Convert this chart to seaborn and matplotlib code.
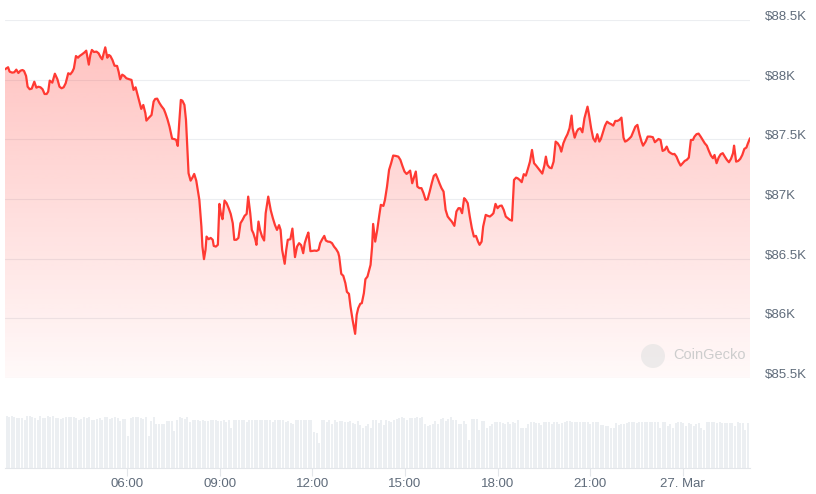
import matplotlib
matplotlib.use("Agg")
import matplotlib.pyplot as plt
import matplotlib.dates as mdates
import matplotlib.colors as mcolors
from matplotlib.patches import Ellipse
import numpy as np
import pandas as pd
import seaborn as sns

# BTC price, 26-27 Mar 2025 (minutes after 26 Mar 00:00, USD)
minutes = [
    122, 128, 131, 136, 140, 144, 148, 152, 156, 159, 163, 166, 170, 174, 179, 183,
    187, 191, 195, 199, 203, 206, 209, 214, 219, 224, 228, 232, 236, 240, 245, 249,
    253, 256, 260, 264, 267, 272, 277, 280, 285, 288, 291, 295, 300, 304, 308, 311,
    314, 317, 321, 324, 327, 331, 335, 340, 343, 346, 350, 354, 358, 364, 368, 372,
    376, 379, 383, 387, 391, 395, 397, 401, 407, 411, 414, 418, 422, 426, 431, 434,
    438, 442, 447, 452, 455, 458, 461, 464, 467, 471, 474, 477, 479, 483, 487, 490,
    494, 497, 500, 504, 506, 509, 512, 514, 518, 522, 526, 528, 532, 536, 539, 542,
    545, 549, 553, 557, 561, 565, 568, 572, 576, 580, 584, 588, 592, 595, 599, 602,
    605, 609, 611, 615, 618, 622, 626, 629, 634, 639, 643, 647, 651, 655, 658, 661,
    666, 669, 672, 677, 681, 683, 686, 690, 694, 698, 702, 705, 709, 712, 716, 720,
    724, 728, 732, 735, 739, 743, 746, 750, 754, 758, 762, 766, 770, 772, 776, 780,
    784, 787, 791, 794, 798, 803, 806, 809, 813, 816, 820, 823, 827, 830, 833, 836,
    838, 842, 846, 850, 853, 858, 861, 865, 869, 873, 877, 882, 887, 891, 895, 899,
    903, 906, 910, 914, 918, 921, 924, 928, 932, 936, 940, 944, 948, 952, 956, 960,
    964, 967, 971, 975, 979, 983, 987, 991, 996, 1000, 1004, 1007, 1011, 1015, 1018, 1022,
    1026, 1030, 1034, 1038, 1042, 1045, 1049, 1052, 1057, 1061, 1065, 1069, 1072, 1076, 1080, 1084,
    1088, 1092, 1096, 1100, 1104, 1108, 1112, 1116, 1119, 1123, 1127, 1131, 1135, 1139, 1143, 1147,
    1151, 1155, 1159, 1163, 1167, 1171, 1174, 1177, 1181, 1185, 1189, 1193, 1197, 1201, 1204, 1208,
    1212, 1216, 1220, 1224, 1226, 1230, 1234, 1237, 1241, 1245, 1249, 1252, 1255, 1258, 1262, 1266,
    1270, 1274, 1278, 1281, 1285, 1289, 1293, 1297, 1301, 1305, 1309, 1313, 1317, 1321, 1325, 1328,
    1331, 1335, 1340, 1344, 1348, 1352, 1356, 1360, 1363, 1368, 1372, 1377, 1382, 1386, 1389, 1393,
    1397, 1401, 1405, 1409, 1413, 1417, 1421, 1424, 1428, 1432, 1436, 1440, 1444, 1448, 1452, 1456,
    1460, 1463, 1467, 1471, 1475, 1479, 1483, 1487, 1491, 1495, 1499, 1502, 1506, 1510, 1514, 1518,
    1522, 1526, 1530, 1534, 1538, 1540, 1544, 1548, 1552, 1556, 1560, 1564, 1567, 1571,
]
price = [
    88087, 88104, 88067, 88059, 88062, 88084, 88056, 88075, 88081, 88073, 88031, 87941, 87920, 87925, 87983, 87933,
    87941, 87936, 87920, 87880, 87880, 87900, 87992, 87975, 88050, 88003, 87941, 87928, 87936, 87970, 88054, 88045,
    88067, 88095, 88198, 88184, 88198, 88213, 88230, 88243, 88126, 88207, 88249, 88232, 88235, 88221, 88188, 88171,
    88221, 88271, 88184, 88207, 88198, 88165, 88117, 88115, 88067, 88003, 88042, 88031, 88012, 88003, 87998, 87914,
    87936, 87886, 87816, 87755, 87788, 87719, 87657, 87677, 87704, 87816, 87838, 87841, 87807, 87780, 87752, 87719,
    87668, 87606, 87506, 87501, 87495, 87445, 87648, 87830, 87824, 87788, 87663, 87384, 87216, 87154, 87183, 87210,
    87154, 87076, 86993, 86769, 86601, 86496, 86574, 86685, 86663, 86674, 86658, 86607, 86601, 86616, 86959, 86875,
    86831, 86987, 86965, 86923, 86875, 86797, 86658, 86658, 86674, 86797, 86825, 86859, 86875, 87020, 86881, 86741,
    86714, 86658, 86616, 86811, 86741, 86685, 86652, 86881, 87020, 86903, 86839, 86783, 86741, 86781, 86741, 86574,
    86457, 86574, 86658, 86663, 86752, 86658, 86513, 86601, 86630, 86613, 86546, 86630, 86685, 86719, 86563, 86565,
    86568, 86565, 86574, 86630, 86663, 86691, 86652, 86643, 86641, 86630, 86601, 86580, 86551, 86518, 86373, 86356,
    86295, 86222, 86205, 86099, 85988, 85870, 86029, 86085, 86122, 86127, 86211, 86328, 86350, 86400, 86448, 86601,
    86791, 86643, 86741, 86865, 86951, 86942, 86993, 87104, 87244, 87300, 87364, 87361, 87355, 87328, 87277, 87230,
    87210, 87221, 87238, 87132, 87188, 87230, 87104, 87091, 87091, 87049, 86993, 86998, 87062, 87132, 87194, 87208,
    87166, 87132, 87091, 87062, 86909, 86853, 86831, 86811, 86775, 86895, 86923, 86923, 86881, 87007, 86993, 86965,
    86853, 86756, 86685, 86691, 86643, 86616, 86643, 86769, 86867, 86859, 86853, 86867, 86881, 86959, 86923, 86942,
    86945, 86909, 86853, 86839, 86825, 86819, 87160, 87179, 87174, 87160, 87141, 87208, 87196, 87252, 87313, 87411,
    87300, 87280, 87258, 87235, 87213, 87280, 87355, 87286, 87263, 87258, 87313, 87481, 87467, 87439, 87397, 87467,
    87509, 87543, 87593, 87699, 87593, 87514, 87565, 87585, 87593, 87559, 87677, 87727, 87774, 87704, 87593, 87509,
    87481, 87543, 87481, 87503, 87559, 87615, 87648, 87635, 87627, 87615, 87654, 87654, 87663, 87682, 87514, 87481,
    87487, 87501, 87523, 87565, 87606, 87621, 87543, 87481, 87447, 87481, 87523, 87523, 87518, 87476, 87487, 87503,
    87495, 87403, 87411, 87439, 87397, 87384, 87375, 87378, 87355, 87313, 87280, 87300, 87319, 87328, 87347, 87495,
    87495, 87523, 87543, 87548, 87523, 87495, 87467, 87447, 87403, 87364, 87342, 87369, 87300, 87347, 87375, 87384,
    87355, 87328, 87308, 87336, 87384, 87447, 87313, 87319, 87336, 87369, 87420, 87431, 87467, 87509,
]

# 5-minute trading volume (relative units)
volume = [
    52, 51, 52, 51, 50, 50, 50, 48, 52, 52, 51, 50, 48, 52, 50, 50,
    52, 51, 52, 50, 50, 49, 50, 51, 51, 51, 51, 50, 48, 49, 51, 50,
    51, 48, 48, 49, 50, 48, 51, 51, 49, 50, 51, 50, 47, 49, 49, 32,
    50, 51, 51, 51, 50, 49, 51, 32, 47, 51, 44, 44, 44, 44, 47, 47,
    47, 37, 48, 51, 50, 49, 51, 46, 48, 48, 48, 47, 48, 47, 47, 48,
    48, 48, 47, 47, 48, 46, 48, 40, 48, 48, 48, 48, 48, 46, 48, 48,
    48, 48, 48, 48, 48, 48, 48, 46, 48, 48, 48, 48, 46, 47, 45, 44,
    48, 48, 48, 48, 48, 48, 48, 36, 35, 25, 48, 48, 46, 48, 44, 48,
    46, 47, 47, 46, 46, 47, 45, 44, 47, 43, 40, 42, 44, 40, 48, 48,
    45, 48, 43, 48, 47, 46, 48, 49, 50, 51, 50, 48, 50, 50, 50, 51,
    50, 51, 44, 42, 43, 44, 47, 44, 49, 50, 47, 49, 51, 48, 48, 44,
    44, 47, 44, 28, 49, 49, 49, 38, 47, 47, 40, 42, 44, 46, 46, 46,
    45, 44, 46, 44, 46, 45, 48, 40, 40, 40, 44, 46, 46, 45, 45, 43,
    46, 46, 46, 44, 46, 46, 44, 45, 46, 47, 47, 46, 46, 46, 46, 46,
    46, 46, 44, 46, 46, 46, 43, 43, 42, 42, 40, 40, 45, 43, 44, 44,
    45, 46, 46, 46, 45, 46, 46, 46, 46, 46, 46, 46, 46, 40, 46, 46,
    42, 44, 40, 45, 46, 46, 45, 42, 45, 44, 42, 44, 45, 40, 38, 46,
    46, 46, 46, 45, 46, 45, 45, 45, 45, 45, 42, 46, 45, 45, 38, 45,
]

y_ticks = [85500, 86000, 86500, 87000, 87500, 88000, 88500]
y_labels = ["$85.5K", "$86K", "$86.5K", "$87K", "$87.5K", "$88K", "$88.5K"]
x_ticks = ["2025-03-26 06:00", "2025-03-26 09:00", "2025-03-26 12:00", "2025-03-26 15:00",
           "2025-03-26 18:00", "2025-03-26 21:00", "2025-03-27 00:00"]
x_labels = ["06:00", "09:00", "12:00", "15:00", "18:00", "21:00", "27. Mar"]

red = "#ff3a33"
text_gray = "#5f6b7a"
grid_gray = "#eceef1"

sns.set_theme(style="white")
plt.rcParams["font.family"] = ["Liberation Sans", "DejaVu Sans"]

day0 = pd.Timestamp("2025-03-26")
df = pd.DataFrame({"time": day0 + pd.to_timedelta(minutes, unit="min"), "price": price})
vol_df = pd.DataFrame({
    "time": pd.date_range(day0 + pd.Timedelta(minutes=125), day0 + pd.Timedelta(minutes=1567),
                          periods=len(volume)),
    "volume": volume,
})
x_lo = df["time"].iloc[0]
x_hi = df["time"].iloc[-1]

fig = plt.figure(figsize=(8.16, 4.94), dpi=100)
ax = fig.add_axes([5 / 816, 1 - 378 / 494, 745 / 816, 358 / 494])
axv = fig.add_axes([5 / 816, 1 - 468 / 494, 745 / 816, 58 / 494])

# price line + gradient area
sns.lineplot(data=df, x="time", y="price", ax=ax, color=red, linewidth=1.6, zorder=3)
area = ax.fill_between(df["time"], df["price"], y_ticks[0], color="none", lw=0)
grad = np.zeros((256, 1, 4))
grad[..., :3] = mcolors.to_rgb(red)
grad[:, 0, 3] = np.linspace(0.30, 0.03, 256)
x0, x1 = mdates.date2num([x_lo, x_hi])
im = ax.imshow(grad, aspect="auto", extent=[x0, x1, y_ticks[0], max(price)],
               origin="upper", zorder=1, interpolation="bilinear")
im.set_clip_path(area.get_paths()[0], transform=ax.transData)

ax.set_xlim(x_lo, x_hi)
ax.set_ylim(y_ticks[0], y_ticks[-1])
ax.set_yticks(y_ticks)
ax.set_yticklabels(y_labels)
ax.yaxis.tick_right()
ax.tick_params(axis="y", length=0, pad=11, labelsize=9.5, labelcolor=text_gray)
for lab in ax.get_yticklabels():
    lab.set_verticalalignment("baseline")
ax.tick_params(axis="x", bottom=False, labelbottom=False)
ax.grid(axis="y", color=grid_gray, lw=0.8)
ax.grid(axis="x", visible=False)
ax.set_xlabel("")
ax.set_ylabel("")
sns.despine(ax=ax, left=True, bottom=True)

# volume bars
axv.bar(vol_df["time"], vol_df["volume"], width=pd.Timedelta(minutes=3.8),
        color="#eceff2", linewidth=0)
axv.set_xlim(x_lo, x_hi)
axv.set_ylim(0, 58)
axv.set_yticks([])
axv.set_xticks(pd.to_datetime(x_ticks))
axv.set_xticklabels(x_labels)
axv.tick_params(axis="x", bottom=True, length=6, width=0.8, color="#e3e6ea",
                pad=1.5, labelsize=9.5, labelcolor=text_gray)
sns.despine(ax=axv, left=True)
axv.spines["bottom"].set_color("#e3e6ea")
axv.spines["bottom"].set_linewidth(0.8)

# watermark
fig.add_artist(Ellipse((653 / 816, 1 - 356 / 494), 24 / 816, 24 / 494,
                       transform=fig.transFigure, facecolor="#e2e2e2", alpha=0.6, lw=0))
fig.text(673 / 816, 1 - 355 / 494, "CoinGecko", color="#cdcdcd", fontsize=10.5,
         ha="left", va="center")

fig.savefig("out.png", dpi=100)
